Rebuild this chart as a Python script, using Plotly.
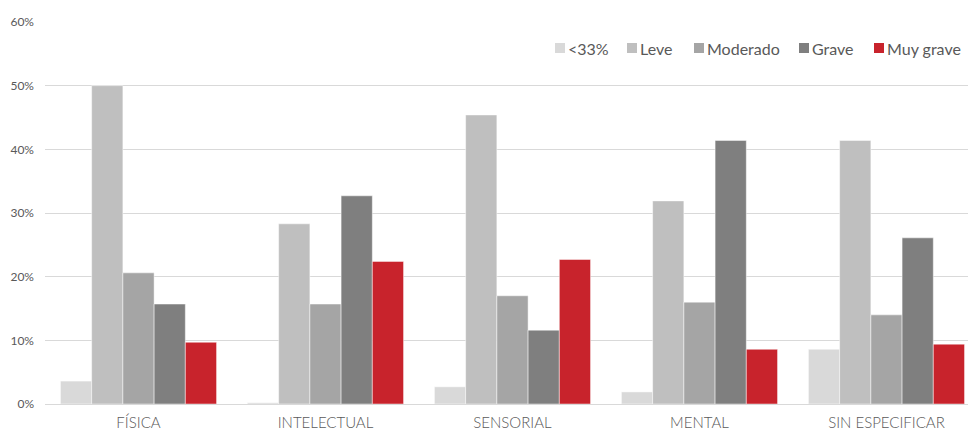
import plotly.graph_objects as go

categories = ["FÍSICA", "INTELECTUAL", "SENSORIAL", "MENTAL", "SIN ESPECIFICAR"]
series_names = ["<33%", "Leve", "Moderado", "Grave", "Muy grave"]
menos33 = [3.6, 0.2, 2.7, 1.9, 8.6]
leve = [50.0, 28.3, 45.4, 31.9, 41.4]
moderado = [20.6, 15.7, 17.0, 16.0, 14.0]
grave = [15.7, 32.7, 11.6, 41.4, 26.1]
muy_grave = [9.7, 22.4, 22.7, 8.6, 9.4]
colors = ["#d9d9d9", "#bfbfbf", "#a5a5a5", "#7f7f7f", "#c8232c"]
y_ticks = [0, 10, 20, 30, 40, 50, 60]
y_tick_labels = ["0%", "10%", "20%", "30%", "40%", "50%", "60%"]

W, H = 968, 430
ML, MR, MT, MB = 45, 0, 22, 26
PW, PH = W - ML - MR, H - MT - MB

fig = go.Figure()
for name, vals, col in zip(series_names, [menos33, leve, moderado, grave, muy_grave], colors):
    fig.add_trace(go.Bar(
        x=categories, y=vals, name=name, showlegend=False,
        marker=dict(color=col, line=dict(color="rgba(255,255,255,0.6)", width=0.8)),
    ))

# custom legend (square + label), positions in pixels
legend_square_px = [555, 627, 694, 799, 874]
legend_y_px = 48
shapes = []
annotations = []
for name, col, sx in zip(series_names, colors, legend_square_px):
    x0 = (sx - ML) / PW
    x1 = (sx + 10 - ML) / PW
    y0 = 1 - (legend_y_px + 5 - MT) / PH
    y1 = 1 - (legend_y_px - 5 - MT) / PH
    shapes.append(dict(type="rect", xref="paper", yref="paper", x0=x0, x1=x1, y0=y0, y1=y1,
                       fillcolor=col, line=dict(width=0)))
    annotations.append(dict(
        xref="paper", yref="paper", x=(sx + 11 - ML) / PW, y=1 - (legend_y_px - MT) / PH,
        xanchor="left", yanchor="middle", showarrow=False,
        text=name.replace("<", "&lt;"), font=dict(size=16, color="#595959", family="Lato, sans-serif"),
    ))

fig.update_layout(
    width=W, height=H,
    margin=dict(l=ML, r=MR, t=MT, b=MB),
    paper_bgcolor="white", plot_bgcolor="white",
    barmode="group", bargap=0.165, bargroupgap=0,
    font=dict(family="Lato, Roboto, sans-serif", color="#595959"),
    showlegend=False,
    shapes=shapes, annotations=annotations,
    xaxis=dict(
        range=[-0.5, 4.436], showgrid=False, showline=False, ticks="", automargin=False,
        tickfont=dict(size=15, color="#595959", weight=300), fixedrange=True,
        ticklabelstandoff=8,
    ),
    yaxis=dict(
        range=[0, 60], tickvals=y_ticks, ticktext=y_tick_labels, automargin=False,
        showgrid=True, gridcolor="#d9d9d9", gridwidth=1,
        zeroline=True, zerolinecolor="#d9d9d9", zerolinewidth=1,
        tickfont=dict(size=12, color="#595959"), ticks="", ticklabelstandoff=10,
    ),
)

fig.write_html("out.html", config={"displayModeBar": False},
               post_script="document.body.style.margin='0';document.body.style.overflow='hidden';")
